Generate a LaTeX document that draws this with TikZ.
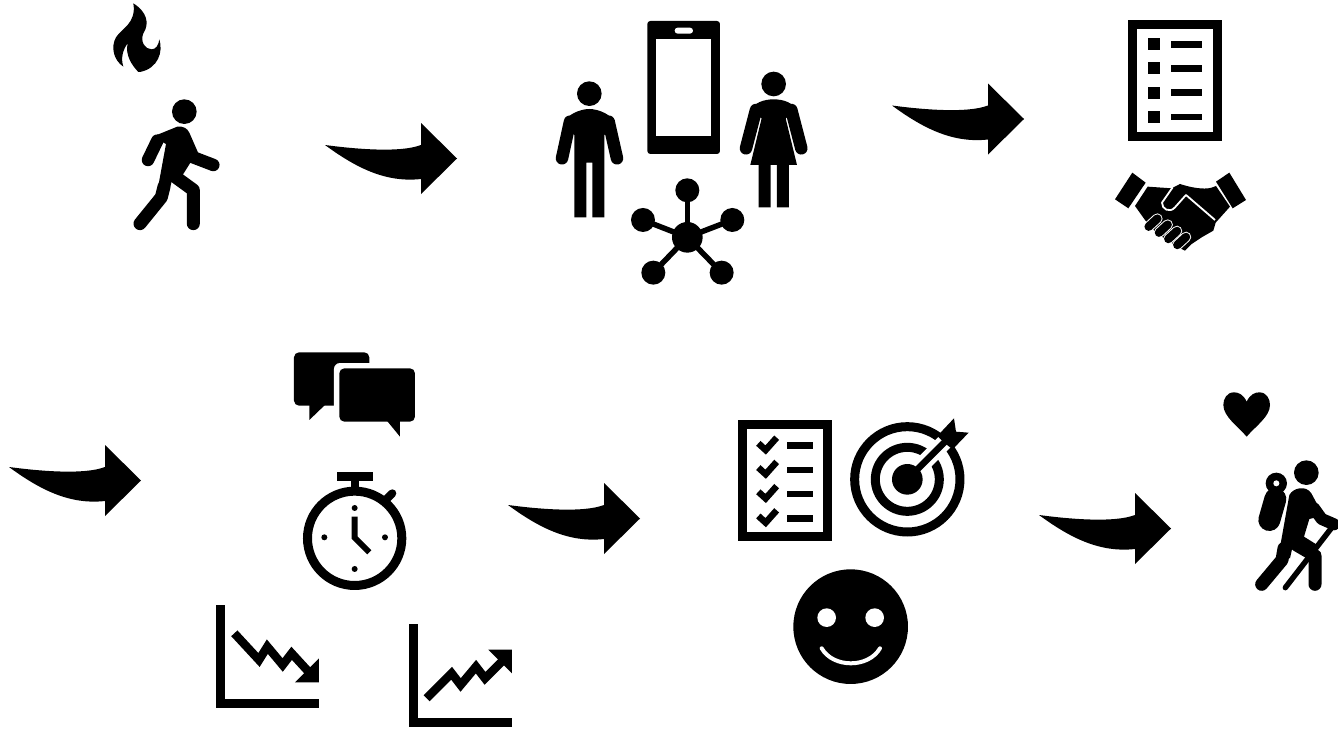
\documentclass[tikz,border=0pt]{standalone}
\usepackage{xcolor}
\usepackage{tikz}
\tikzset{
  ink/.style={fill=black, draw=none},
  gap/.style={fill=white, draw=none},
  limb/.style={draw=black, line width=#1, line cap=round, line join=round},
  limb/.default=12.5pt,
  bar/.style={draw=black, line width=#1, line cap=butt, line join=miter},
  bar/.default=8.5pt,
  swoosh/.pic={
    \fill[black] (0,0) .. controls (30,4) and (75,8) .. (96,0) -- (96,-22)
      -- (132,13.5) -- (96,49) -- (96,34) .. controls (60,38) and (30,22) .. (0,0);
  }
}
\begin{document}
\begin{tikzpicture}[x=1pt,y=-1pt]
  \useasboundingbox (0,0) rectangle (1338,728);
  \clip (0,0) rectangle (1338,728);

  % Arrows between the groups.
  \foreach \ax/\ay in {325/145,892/105.5,9/467,508/505,1039/515}{
    \pic at (\ax,\ay) {swoosh};
  }

  % Flame and walker.
  \begin{scope}[shift={(90,0)},scale=0.3333]
    \fill[ink] (130,10) .. controls (170,35) and (180,70) .. (160,100)
      .. controls (150,125) and (165,148) .. (185,148)
      .. controls (198,148) and (206,135) .. (208,118)
      .. controls (220,155) and (205,205) .. (150,216)
      -- (145,216) .. controls (125,195) and (105,165) .. (113,130)
      .. controls (98,150) and (92,175) .. (100,200)
      .. controls (70,180) and (62,140) .. (78,112)
      .. controls (95,85) and (140,70) .. (130,10) -- cycle;
    \fill[ink] (283,335) circle[radius=37];
    \fill[ink] (188,410) -- (262,380) .. controls (280,378) and (292,385) .. (298,398)
      -- (326,462) -- (300,490) -- (278,525) -- (245,545) -- (230,600) -- (200,585)
      -- (228,432) -- cycle;
    \draw[limb] (202,422) -- (174,480);
    \draw[limb] (310,472) -- (370,495);
    \draw[limb=13pt] (222,560) -- (214,592) -- (150,671);
    \draw[limb=13pt] (255,530) -- (310,570) -- (310,671);
  \end{scope}

  % Man, phone, woman and network.
  \begin{scope}[shift={(540,10)},scale=0.3333]
    \fill[ink] (148,251) circle[radius=37];
    \fill[ink] (72,340) .. controls (78,315) and (120,297) .. (148,297)
      .. controls (176,297) and (218,315) .. (224,340) -- (193,375) -- (193,622)
      -- (157,622) -- (157,458) -- (139,458) -- (139,622) -- (103,622) -- (103,375) -- cycle;
    \draw[limb] (90,335) -- (66,445);
    \draw[limb] (206,335) -- (231,445);

    \fill[ink, rounded corners=3pt] (322,33) rectangle (540,432);
    \fill[gap] (349,87) rectangle (513,378);
    \fill[gap, rounded corners=3pt] (404,53) rectangle (459,71);

    \fill[ink] (701,222) circle[radius=37];
    \fill[ink] (631,305) .. controls (640,278) and (672,268) .. (701,268)
      .. controls (730,268) and (762,278) .. (771,305)
      -- (737,325) -- (771,465) -- (747,465) -- (747,592) -- (711,592) -- (711,465)
      -- (692,465) -- (692,592) -- (656,592) -- (656,465) -- (631,465) -- (665,325) -- cycle;
    \draw[limb] (648,300) -- (618,415);
    \draw[limb] (754,300) -- (784,415);

    \fill[ink] (442,682) circle[radius=46];
    \foreach \nx/\ny in {442/541,309/630,577/630,340/788,545/788}{
      \fill[ink] (\nx,\ny) circle[radius=36];
      \draw[bar=5.5pt] (442,682) -- (\nx,\ny);
    }
  \end{scope}

  % Checklist and handshake.
  \begin{scope}[shift={(1100,10)},scale=0.3333]
    \draw[bar=9pt] (96.5,43.5) rectangle (351.5,379.5);
    \foreach \ry in {103,175.5,248,321}{
      \fill[ink] (143,\ry-18) rectangle (179,\ry+18);
      \fill[ink] (214,\ry-10) rectangle (305,\ry+10);
    }
    \fill[ink] (97,488) -- (137,518) -- (85,595) -- (45,568) -- cycle;
    \fill[ink] (388,488) -- (348,515) -- (398,595) -- (438,570) -- cycle;
    \fill[ink] (105,588) -- (143,530) -- (215,535) -- (240,522)
      .. controls (270,532) and (310,540) .. (335,533) -- (348,528) -- (390,590)
      -- (347,638) -- (340,662) -- (305,682) -- (275,702) -- (255,722) -- (235,712)
      -- (170,670) -- (135,630) -- cycle;
    \draw[white, line width=1.8pt, line join=round]
      (345,630) -- (258,555) -- (225,592) .. controls (210,610) and (185,598) .. (186,578)
      -- (218,532);
    \foreach \fx/\fy in {146/650,177/668,205/687,232/705}{
      \draw[white, line width=10.5pt, line cap=round] (\fx,\fy) -- ++(26,-24);
      \draw[limb=8.5pt] (\fx,\fy) -- ++(26,-24);
    }
  \end{scope}

  % Speech bubbles, stopwatch and the two charts.
  \begin{scope}[shift={(210,345)},scale=0.3333]
    \fill[ink] (298,170) -- (298,225) -- (350,175) -- cycle;
    \fill[ink, rounded corners=5pt] (252,22) rectangle (478,182);
    \fill[gap, rounded corners=6pt] (372,54) rectangle (631,250);
    \fill[ink] (525,220) -- (570,275) -- (570,220) -- cycle;
    \fill[ink, rounded corners=5pt] (388,70) rectangle (615,230);

    \draw[bar=9pt] (434,580) circle[radius=141.5];
    \fill[ink] (380,381) rectangle (490,408);
    \fill[ink] (422,408) rectangle (447,432);
    \draw[limb=8pt] (528,464) -- (547,445);
    \foreach \dx/\dy in {434/489,343/577,525/577,434/672}{
      \fill[ink] (\dx,\dy) circle[radius=9];
    }
    \draw[bar=6pt] (434,515) -- (434,578) -- (478,622);

    \fill[ink] (19,780) rectangle (46,1088);
    \fill[ink] (19,1061) rectangle (327,1088);
    \draw[bar] (73,865) -- (147,945) -- (172,905) -- (218,960) -- (245,925) -- (300,985);
    \fill[ink] (327,940) -- (327,1012) -- (255,1012) -- cycle;

    \fill[ink] (598,838) rectangle (625,1145);
    \fill[ink] (598,1118) rectangle (906,1145);
    \draw[bar] (650,1060) -- (725,985) -- (752,1020) -- (798,965) -- (825,1000) -- (880,945);
    \fill[ink] (835,914) -- (906,914) -- (906,985) -- cycle;
  \end{scope}

  % Tick list, target and smiley.
  \begin{scope}[shift={(730,410)},scale=0.3333]
    \draw[bar=9pt] (36.5,43.5) rectangle (291.5,379.5);
    \foreach \ry in {0,72.7,145.4,218}{
      \draw[bar=6.5pt] (85,100+\ry) -- (107,120+\ry) -- (140,83+\ry);
      \fill[ink] (172,97+\ry) rectangle (250,117+\ry);
    }
    \draw[bar=9pt] (532,208) circle[radius=158];
    \draw[bar=9pt] (532,208) circle[radius=96];
    \fill[ink] (532,208) circle[radius=46];
    \draw[white, line width=16pt] (575,165) -- (700,40);
    \draw[bar=6.5pt] (532,208) -- (650,90);
    \fill[ink] (672,25) -- (678,65) -- (716,68) -- (668,118) -- (645,100) -- (622,78) -- cycle;

    \fill[ink] (362,650) circle[radius=172];
    \fill[gap] (290,623) circle[radius=28];
    \fill[gap] (434,623) circle[radius=28];
    \draw[white, line width=4pt, line cap=round]
      (275,715) .. controls (310,775) and (415,775) .. (450,715);
  \end{scope}

  % Heart and hiker.
  \begin{scope}[shift={(1210,385)},scale=0.3333]
    \fill[ink] (110,50) .. controls (100,28) and (85,22) .. (72,22)
      .. controls (50,22) and (40,42) .. (40,60)
      .. controls (40,95) and (85,125) .. (110,155)
      .. controls (135,125) and (180,95) .. (180,60)
      .. controls (180,42) and (170,22) .. (148,22)
      .. controls (135,22) and (120,28) .. (110,50) -- cycle;
    \fill[ink] (289,263) circle[radius=37];
    \fill[ink] (199,295) circle[radius=32];
    \fill[gap] (199,295) circle[radius=9];
    \draw[limb=22pt] (196,342) -- (178,405);
    \fill[ink] (238,330) .. controls (250,308) and (288,300) .. (304,325)
      -- (340,392) -- (298,402) -- (282,455) -- (325,482) -- (320,515) -- (250,475)
      -- (240,520) -- (205,515) -- cycle;
    \draw[limb=12pt] (312,370) -- (335,402) -- (372,418);
    \draw[white, line width=8pt] (305,495) -- (240,590);
    \draw[limb=5.5pt] (362,432) -- (226,608);
    \draw[limb=13pt] (222,490) -- (216,525) -- (155,598);
    \draw[limb=13pt] (260,480) -- (315,512) -- (315,598);
  \end{scope}
\end{tikzpicture}
\end{document}
